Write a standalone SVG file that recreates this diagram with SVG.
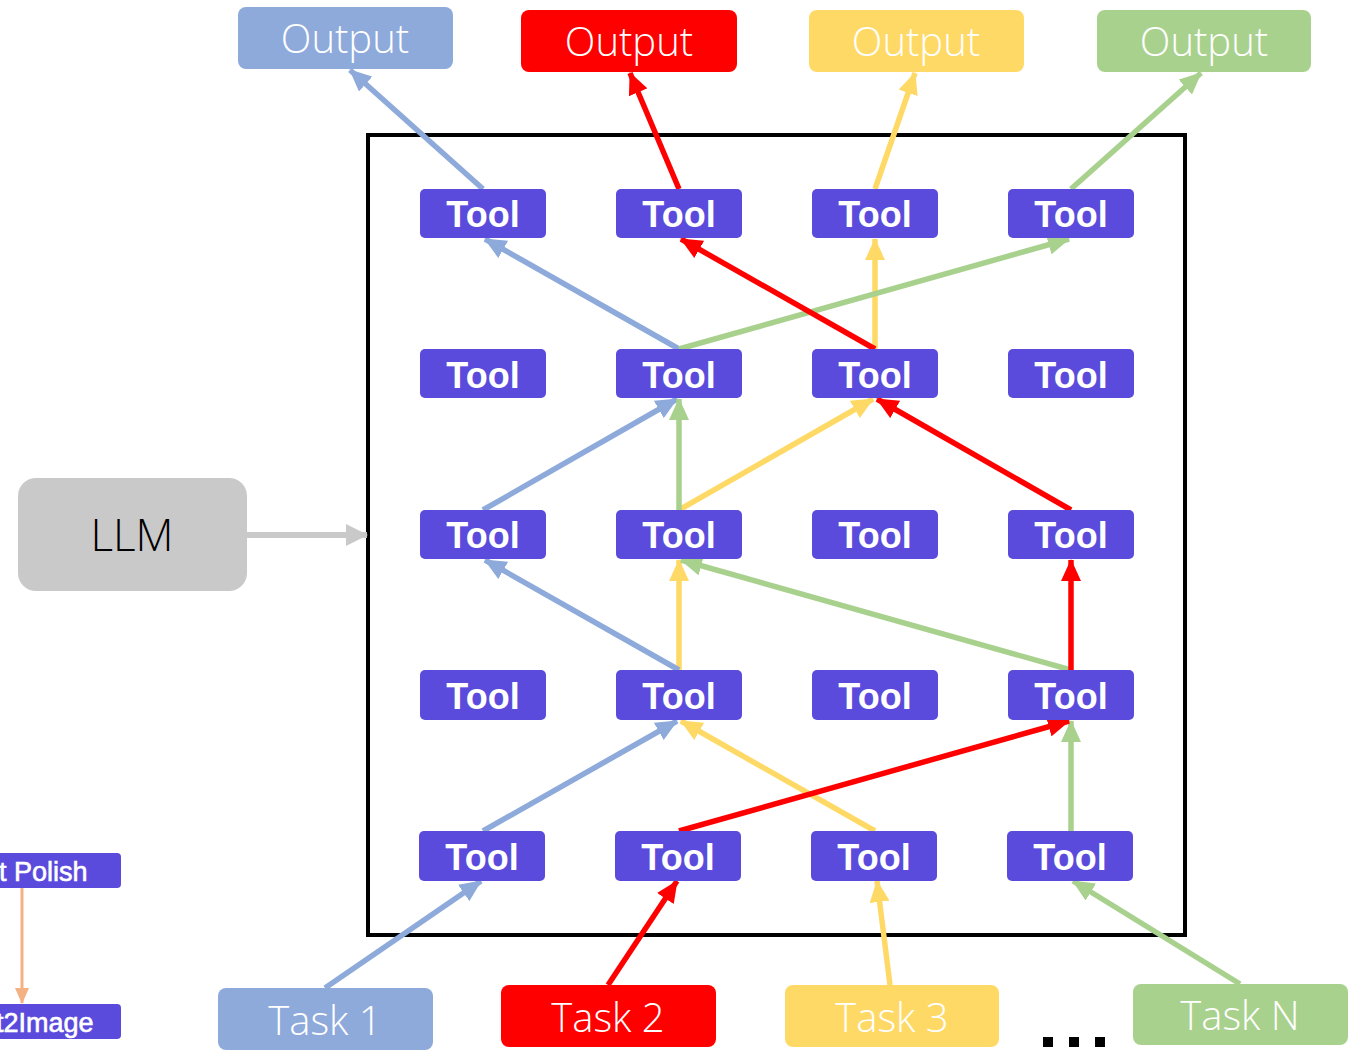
<svg xmlns="http://www.w3.org/2000/svg" width="1355" height="1051" viewBox="0 0 1355 1051">
  <style>
    .tool rect { fill: #5b4bdc; }
    .tool text { fill: #ffffff; font-family: "Liberation Sans", Arial, sans-serif; font-weight: bold; font-size: 36px; text-anchor: middle; }
    .lbl { fill: #ffffff; font-family: "Open Sans", "Noto Sans", sans-serif; font-weight: 300; font-size: 40px; text-anchor: middle; }
    .side rect { fill: #5b4bdc; }
    .side text { fill: #ffffff; font-family: "Liberation Sans", Arial, sans-serif; font-size: 27px; stroke: #ffffff; stroke-width: 0.6; }
    .c { fill: none; stroke-width: 5.5; }
    .blue { stroke: #8eaadb; marker-end: url(#hBlue); }
    .red { stroke: #ff0000; marker-end: url(#hRed); }
    .yel { stroke: #ffd966; marker-end: url(#hYel); }
    .grn { stroke: #a9d18e; marker-end: url(#hGrn); }
  </style>
  <defs>
    <marker id="hBlue" markerUnits="userSpaceOnUse" markerWidth="22" markerHeight="20" refX="21" refY="10" orient="auto"><path d="M0,0 L22,10 L0,20 Z" fill="#8eaadb"/></marker>
    <marker id="hRed" markerUnits="userSpaceOnUse" markerWidth="22" markerHeight="20" refX="21" refY="10" orient="auto"><path d="M0,0 L22,10 L0,20 Z" fill="#ff0000"/></marker>
    <marker id="hYel" markerUnits="userSpaceOnUse" markerWidth="22" markerHeight="20" refX="21" refY="10" orient="auto"><path d="M0,0 L22,10 L0,20 Z" fill="#ffd966"/></marker>
    <marker id="hGrn" markerUnits="userSpaceOnUse" markerWidth="22" markerHeight="20" refX="21" refY="10" orient="auto"><path d="M0,0 L22,10 L0,20 Z" fill="#a9d18e"/></marker>
    <marker id="hGrey" markerUnits="userSpaceOnUse" markerWidth="22" markerHeight="22" refX="21" refY="11" orient="auto"><path d="M0,0 L22,11 L0,22 Z" fill="#c9c9c9"/></marker>
    <marker id="hOrange" markerUnits="userSpaceOnUse" markerWidth="16" markerHeight="14" refX="15" refY="7" orient="auto"><path d="M0,0 L16,7 L0,14 Z" fill="#f4b183"/></marker>
  </defs>
  <rect width="1355" height="1051" fill="#ffffff"/>

  <!-- frame holding the tool grid -->
  <rect id="frame" x="368" y="135" width="817" height="800" fill="none" stroke="#000000" stroke-width="4"/>

  <!-- LLM -->
  <g id="llm">
    <rect x="18" y="478" width="229" height="113" rx="18" fill="#c9c9c9"/>
    <text x="132" y="551" font-family="Open Sans, Noto Sans, sans-serif" font-weight="300" font-size="44" text-anchor="middle" fill="#000000">LLM</text>
  </g>

  <!-- side example -->
  <g id="polish" class="side">
    <rect x="-10" y="853" width="131" height="35" rx="4"/>
    <text x="-1" y="881">t Polish</text>
  </g>
  <g id="t2image" class="side">
    <rect x="-10" y="1004" width="131" height="35" rx="4"/>
    <text x="-4" y="1032">t2Image</text>
  </g>

  <!-- outputs -->
  <g id="out-blue"><rect x="238" y="7" width="215" height="62" rx="8" fill="#8eaadb"/><text class="lbl" x="345" y="53">Output</text></g>
  <g id="out-red"><rect x="521" y="10" width="216" height="62" rx="8" fill="#ff0000"/><text class="lbl" x="629" y="56">Output</text></g>
  <g id="out-yellow"><rect x="809" y="10" width="215" height="62" rx="8" fill="#ffd966"/><text class="lbl" x="916" y="56">Output</text></g>
  <g id="out-green"><rect x="1097" y="10" width="214" height="62" rx="8" fill="#a9d18e"/><text class="lbl" x="1204" y="56">Output</text></g>

  <!-- tasks -->
  <g id="task-1"><rect x="218" y="988" width="215" height="62" rx="8" fill="#8eaadb"/><text class="lbl" x="325" y="1035">Task 1</text></g>
  <g id="task-2"><rect x="501" y="985" width="215" height="62" rx="8" fill="#ff0000"/><text class="lbl" x="608" y="1032">Task 2</text></g>
  <g id="task-3"><rect x="785" y="985" width="214" height="62" rx="8" fill="#ffd966"/><text class="lbl" x="892" y="1032">Task 3</text></g>
  <g id="task-n"><rect x="1133" y="984" width="215" height="61" rx="8" fill="#a9d18e"/><text class="lbl" x="1240" y="1030">Task N</text></g>

  <!-- ellipsis -->
  <g id="more" fill="#000000">
    <rect x="1043" y="1037" width="10" height="10"/>
    <rect x="1069" y="1037" width="10" height="10"/>
    <rect x="1095" y="1037" width="10" height="10"/>
  </g>

  <!-- connectors -->
  <g id="connectors">
    <line x1="247" y1="535" x2="367" y2="535" stroke="#c9c9c9" stroke-width="6" marker-end="url(#hGrey)"/>
    <line x1="22" y1="888" x2="22" y2="1003" stroke="#f4b183" stroke-width="3" marker-end="url(#hOrange)"/>

    <!-- yellow flow -->
    <line class="c yel" x1="890" y1="985" x2="877" y2="881"/>
    <line class="c yel" x1="875" y1="831" x2="681" y2="721"/>
    <line class="c yel" x1="679" y1="670" x2="679" y2="560"/>
    <line class="c yel" x1="679" y1="510" x2="873" y2="399"/>
    <line class="c yel" x1="875" y1="349" x2="875" y2="239"/>
    <line class="c yel" x1="875" y1="189" x2="915" y2="73"/>

    <!-- blue flow -->
    <line class="c blue" x1="325" y1="988" x2="481" y2="881"/>
    <line class="c blue" x1="483" y1="831" x2="677" y2="721"/>
    <line class="c blue" x1="679" y1="670" x2="485" y2="560"/>
    <line class="c blue" x1="483" y1="510" x2="677" y2="399"/>
    <line class="c blue" x1="679" y1="349" x2="485" y2="239"/>
    <line class="c blue" x1="483" y1="189" x2="350" y2="70"/>

    <!-- green flow -->
    <line class="c grn" x1="1240" y1="984" x2="1073" y2="881"/>
    <line class="c grn" x1="1071" y1="831" x2="1071" y2="721"/>
    <line class="c grn" x1="1071" y1="670" x2="681" y2="560"/>
    <line class="c grn" x1="679" y1="510" x2="679" y2="399"/>
    <line class="c grn" x1="679" y1="349" x2="1069" y2="239"/>
    <line class="c grn" x1="1071" y1="189" x2="1201" y2="73"/>

    <!-- red flow -->
    <line class="c red" x1="608" y1="985" x2="677" y2="881"/>
    <line class="c red" x1="679" y1="831" x2="1069" y2="721"/>
    <line class="c red" x1="1071" y1="670" x2="1071" y2="560"/>
    <line class="c red" x1="1071" y1="510" x2="877" y2="399"/>
    <line class="c red" x1="875" y1="349" x2="681" y2="239"/>
    <line class="c red" x1="679" y1="189" x2="630" y2="73"/>
  </g>

  <!-- tool grid -->
  <g id="tool-r1c1" class="tool"><rect x="420" y="189" width="126" height="49" rx="5"/><text x="483" y="227">Tool</text></g>
  <g id="tool-r1c2" class="tool"><rect x="616" y="189" width="126" height="49" rx="5"/><text x="679" y="227">Tool</text></g>
  <g id="tool-r1c3" class="tool"><rect x="812" y="189" width="126" height="49" rx="5"/><text x="875" y="227">Tool</text></g>
  <g id="tool-r1c4" class="tool"><rect x="1008" y="189" width="126" height="49" rx="5"/><text x="1071" y="227">Tool</text></g>

  <g id="tool-r2c1" class="tool"><rect x="420" y="349" width="126" height="49" rx="5"/><text x="483" y="388">Tool</text></g>
  <g id="tool-r2c2" class="tool"><rect x="616" y="349" width="126" height="49" rx="5"/><text x="679" y="388">Tool</text></g>
  <g id="tool-r2c3" class="tool"><rect x="812" y="349" width="126" height="49" rx="5"/><text x="875" y="388">Tool</text></g>
  <g id="tool-r2c4" class="tool"><rect x="1008" y="349" width="126" height="49" rx="5"/><text x="1071" y="388">Tool</text></g>

  <g id="tool-r3c1" class="tool"><rect x="420" y="510" width="126" height="49" rx="5"/><text x="483" y="548">Tool</text></g>
  <g id="tool-r3c2" class="tool"><rect x="616" y="510" width="126" height="49" rx="5"/><text x="679" y="548">Tool</text></g>
  <g id="tool-r3c3" class="tool"><rect x="812" y="510" width="126" height="49" rx="5"/><text x="875" y="548">Tool</text></g>
  <g id="tool-r3c4" class="tool"><rect x="1008" y="510" width="126" height="49" rx="5"/><text x="1071" y="548">Tool</text></g>

  <g id="tool-r4c1" class="tool"><rect x="420" y="670" width="126" height="50" rx="5"/><text x="483" y="709">Tool</text></g>
  <g id="tool-r4c2" class="tool"><rect x="616" y="670" width="126" height="50" rx="5"/><text x="679" y="709">Tool</text></g>
  <g id="tool-r4c3" class="tool"><rect x="812" y="670" width="126" height="50" rx="5"/><text x="875" y="709">Tool</text></g>
  <g id="tool-r4c4" class="tool"><rect x="1008" y="670" width="126" height="50" rx="5"/><text x="1071" y="709">Tool</text></g>

  <g id="tool-r5c1" class="tool"><rect x="419" y="831" width="126" height="50" rx="5"/><text x="482" y="870">Tool</text></g>
  <g id="tool-r5c2" class="tool"><rect x="615" y="831" width="126" height="50" rx="5"/><text x="678" y="870">Tool</text></g>
  <g id="tool-r5c3" class="tool"><rect x="811" y="831" width="126" height="50" rx="5"/><text x="874" y="870">Tool</text></g>
  <g id="tool-r5c4" class="tool"><rect x="1007" y="831" width="126" height="50" rx="5"/><text x="1070" y="870">Tool</text></g>
</svg>
